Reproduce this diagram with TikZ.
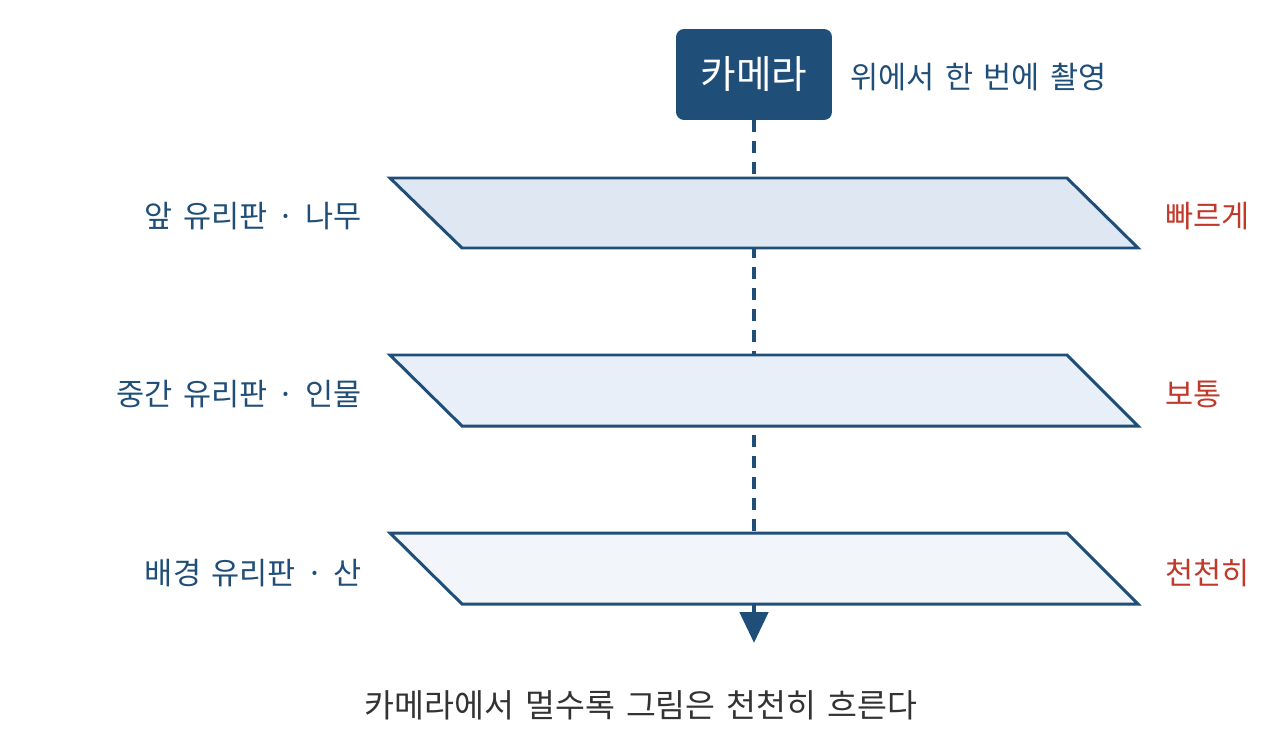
\documentclass[tikz,border=0pt]{standalone}
\usepackage{fontspec}
\newfontfamily\kr[WordSpace=1.5]{Noto Sans CJK KR}
\usetikzlibrary{arrows.meta, positioning}
\definecolor{camblue}{HTML}{1F4E79}
\definecolor{frontfill}{HTML}{DFE7F2}
\definecolor{midfill}{HTML}{E8EFF8}
\definecolor{backfill}{HTML}{F2F6FA}
\definecolor{speedred}{HTML}{C0392B}
\definecolor{notegray}{HTML}{333333}

\begin{document}
\begin{tikzpicture}[
    x=0.02cm, y=-0.02cm,
    every node/.style={font=\kr, inner sep=0pt},
    camera/.style={rectangle, fill=camblue, text=white, rounded corners=0.16cm, minimum width=3.12cm, minimum height=1.82cm, font=\kr\fontsize{22pt}{26pt}\selectfont},
    panel/.style={draw=camblue, line width=1.7pt, line join=miter},
    layer/.style={text=camblue, anchor=east, font=\kr\fontsize{17.4pt}{21pt}\selectfont},
    speed/.style={text=speedred, anchor=west, font=\kr\fontsize{17.4pt}{21pt}\selectfont},
    sight/.style={-{Triangle[width=0.56cm, length=0.62cm]}, line width=2.8pt, draw=camblue, dash pattern=on 0.24cm off 0.18cm}
]
\useasboundingbox (0,0) rectangle (1280,747);

\node[camera] (cam) at (754,74.5) {카메라};
\node[text=camblue, anchor=west, font=\kr\fontsize{17.4pt}{21pt}\selectfont, right=0.36cm of cam, yshift=-0.05cm] (shot) {위에서 한 번에 촬영};
\coordinate (end) at (754,643);
\draw[sight] (cam) -- (end);

% glass panes, front to back
\draw[panel, fill=frontfill] (390,178) -- (1067,178) -- (1138,248) -- (462,248) -- cycle;
\draw[panel, fill=midfill] (390,355) -- (1067,355) -- (1138,426) -- (462,426) -- cycle;
\draw[panel, fill=backfill] (390,533) -- (1067,533) -- (1138,604) -- (462,604) -- cycle;

\node[layer] (front) at (362,216) {앞 유리판 · 나무};
\node[layer] (mid) at (362,394) {중간 유리판 · 인물};
\node[layer] (back) at (362,573) {배경 유리판 · 산};
\node[speed] (fast) at (1165,216) {빠르게};
\node[speed] (normal) at (1165,394) {보통};
\node[speed] (slow) at (1165,573) {천천히};

\node[text=notegray, font=\kr\fontsize{18.5pt}{22pt}\selectfont] (note) at (641,705) {카메라에서 멀수록 그림은 천천히 흐른다};
\end{tikzpicture}
\end{document}
